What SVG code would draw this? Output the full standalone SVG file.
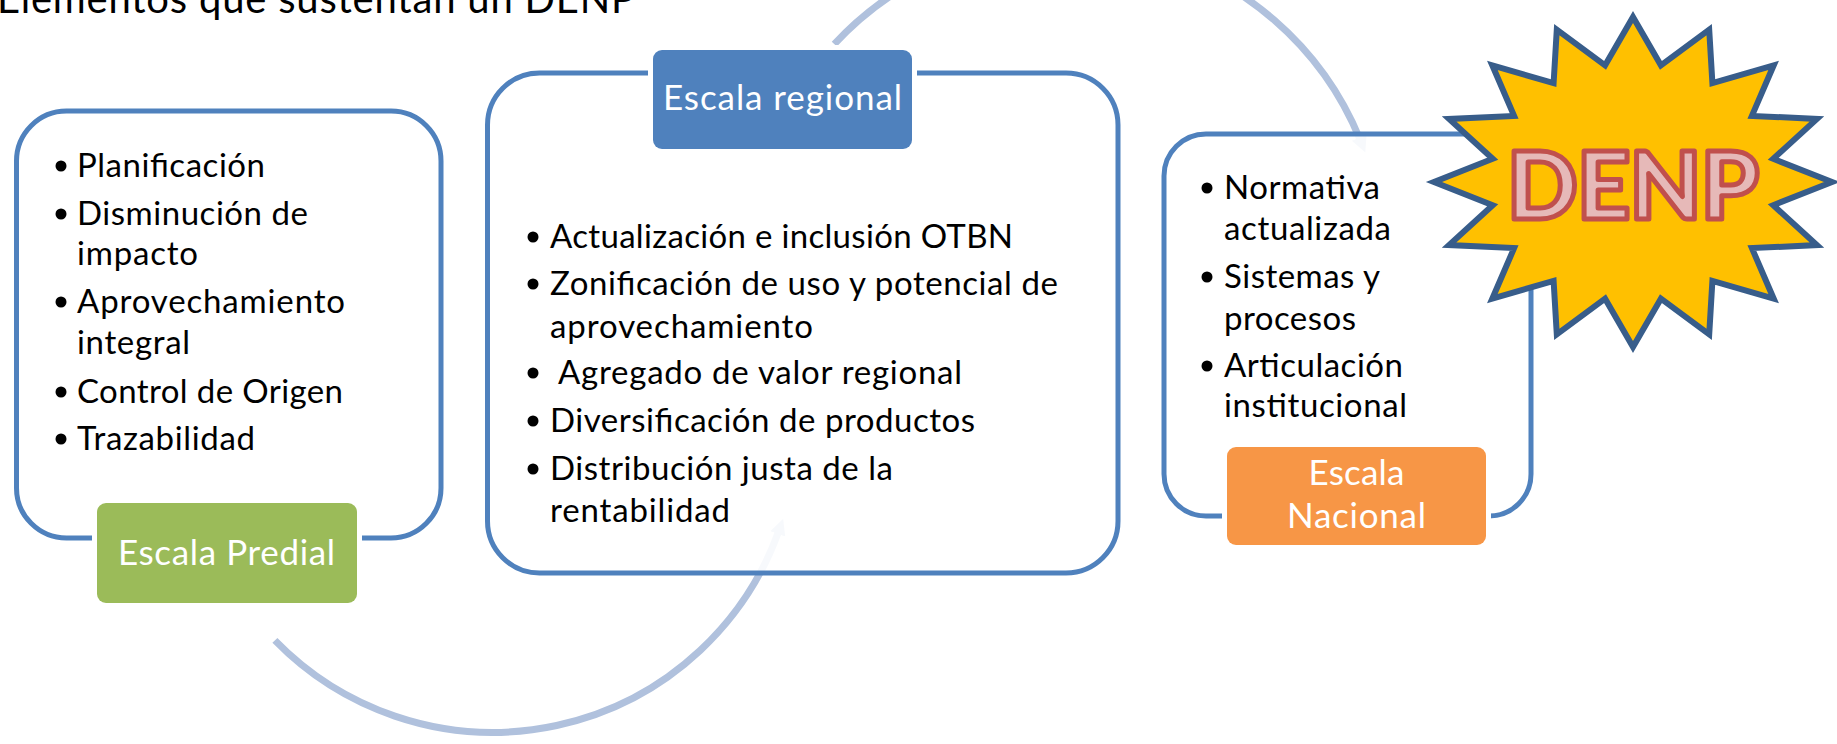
<svg xmlns="http://www.w3.org/2000/svg" width="1837" height="744" viewBox="0 0 1837 744">
<style>
text{font-family:Lato,"Liberation Sans",sans-serif;}
.body{font-size:33px;fill:#000;}
.lbl{font-size:35px;fill:#fff;text-anchor:middle;}
.box{fill:#fff;fill-opacity:0.9;stroke:#4F81BD;stroke-width:5;}
.tag{stroke:#fff;stroke-width:10;paint-order:stroke;}
.arc{fill:none;stroke:#B0C1DD;stroke-width:7;}
.dot{fill:#000;}
</style>
<defs>
<marker id="head" markerUnits="userSpaceOnUse" markerWidth="30" markerHeight="30" refX="2" refY="10" orient="auto" viewBox="0 0 30 20">
<path d="M0,2 L16,10 L0,18 Z" fill="#B0C1DD"/>
</marker>
</defs>
<rect width="1837" height="744" fill="#fff"/>
<text x="-3" y="13" font-size="40" textLength="638" fill="#000">Elementos que sustentan un DENP</text>
<g id="connectors">
<path class="arc" d="M274.9,640.4 A304,304 0 0 0 778.4,532" marker-end="url(#head)"/>
<path class="arc" d="M834.3,44.1 A317,317 0 0 1 1360,139.5" marker-end="url(#head)"/>
</g>
<g id="escala-predial">
<rect class="box" x="16.5" y="111" width="424.5" height="427" rx="50"/>
<circle class="dot" cx="61" cy="166" r="5.5"/>
<text class="body" x="77" y="177" textLength="188">Planificación</text>
<circle class="dot" cx="61" cy="214" r="5.5"/>
<text class="body" x="77" y="225" textLength="231">Disminución de</text>
<text class="body" x="77" y="265" textLength="121">impacto</text>
<circle class="dot" cx="61" cy="302" r="5.5"/>
<text class="body" x="77" y="313" textLength="268">Aprovechamiento</text>
<text class="body" x="77" y="354" textLength="113">integral</text>
<circle class="dot" cx="61" cy="392" r="5.5"/>
<text class="body" x="77" y="403" textLength="266">Control de Origen</text>
<circle class="dot" cx="61" cy="439" r="5.5"/>
<text class="body" x="77" y="450" textLength="178">Trazabilidad</text>
<rect class="tag" x="97" y="503" width="260" height="100" rx="9" fill="#9BBB59"/>
<text class="lbl" x="226.5" y="565" textLength="217">Escala Predial</text>
</g>
<g id="escala-regional">
<rect class="box" x="487.5" y="73" width="630.5" height="500" rx="52"/>
<circle class="dot" cx="533" cy="237" r="5.5"/>
<text class="body" x="550" y="248" textLength="463">Actualización e inclusión OTBN</text>
<circle class="dot" cx="533" cy="284" r="5.5"/>
<text class="body" x="550" y="295" textLength="508">Zonificación de uso y potencial de</text>
<text class="body" x="550" y="338" textLength="263">aprovechamiento</text>
<circle class="dot" cx="533" cy="373" r="5.5"/>
<text class="body" x="558" y="384" textLength="404">Agregado de valor regional</text>
<circle class="dot" cx="533" cy="421" r="5.5"/>
<text class="body" x="550" y="432" textLength="425">Diversificación de productos</text>
<circle class="dot" cx="533" cy="469" r="5.5"/>
<text class="body" x="550" y="480" textLength="343">Distribución justa de la</text>
<text class="body" x="550" y="522" textLength="180">rentabilidad</text>
<rect class="tag" x="653" y="50" width="259" height="99" rx="9" fill="#4F81BD"/>
<text class="lbl" x="782.5" y="110" textLength="239">Escala regional</text>
</g>
<g id="escala-nacional">
<rect class="box" x="1164" y="134" width="367" height="382" rx="42"/>
<circle class="dot" cx="1207" cy="188" r="5.5"/>
<text class="body" x="1224" y="199" textLength="156">Normativa</text>
<text class="body" x="1224" y="240" textLength="167">actualizada</text>
<circle class="dot" cx="1207" cy="277" r="5.5"/>
<text class="body" x="1224" y="288" textLength="156">Sistemas y</text>
<text class="body" x="1224" y="330" textLength="132">procesos</text>
<circle class="dot" cx="1207" cy="366" r="5.5"/>
<text class="body" x="1224" y="377" textLength="179">Articulación</text>
<text class="body" x="1224" y="417" textLength="183">institucional</text>
<rect class="tag" x="1227" y="447" width="259" height="98" rx="9" fill="#F79646"/>
<text class="lbl" x="1356.5" y="485" textLength="96">Escala</text>
<text class="lbl" x="1356.5" y="528" textLength="139">Nacional</text>
</g>
<g id="denp-star">
<path d="M1633,17 L1660.9,65.3 L1709.2,29.6 L1712.4,83.1 L1773.7,65.3 L1751.9,115.9 L1816.9,118.9 L1773.3,158.8 L1832,182 L1773.3,205.2 L1816.9,245.1 L1751.9,248.1 L1773.7,298.7 L1712.4,280.9 L1709.2,334.4 L1660.9,298.7 L1633,347 L1605.1,298.7 L1556.8,334.4 L1553.6,280.9 L1492.3,298.7 L1514.1,248.1 L1449.1,245.1 L1492.7,205.2 L1434,182 L1492.7,158.8 L1449.1,118.9 L1514.1,115.9 L1492.3,65.3 L1553.6,83.1 L1556.8,29.6 L1605.1,65.3 Z" fill="#FFC000" stroke="#385D8A" stroke-width="6" stroke-linejoin="miter"/>
<text x="1633" y="219" font-size="93" font-weight="900" text-anchor="middle" textLength="252" fill="#E6B9B8" stroke="#C0504D" stroke-width="5" stroke-linejoin="round">DENP</text>
</g>
</svg>
